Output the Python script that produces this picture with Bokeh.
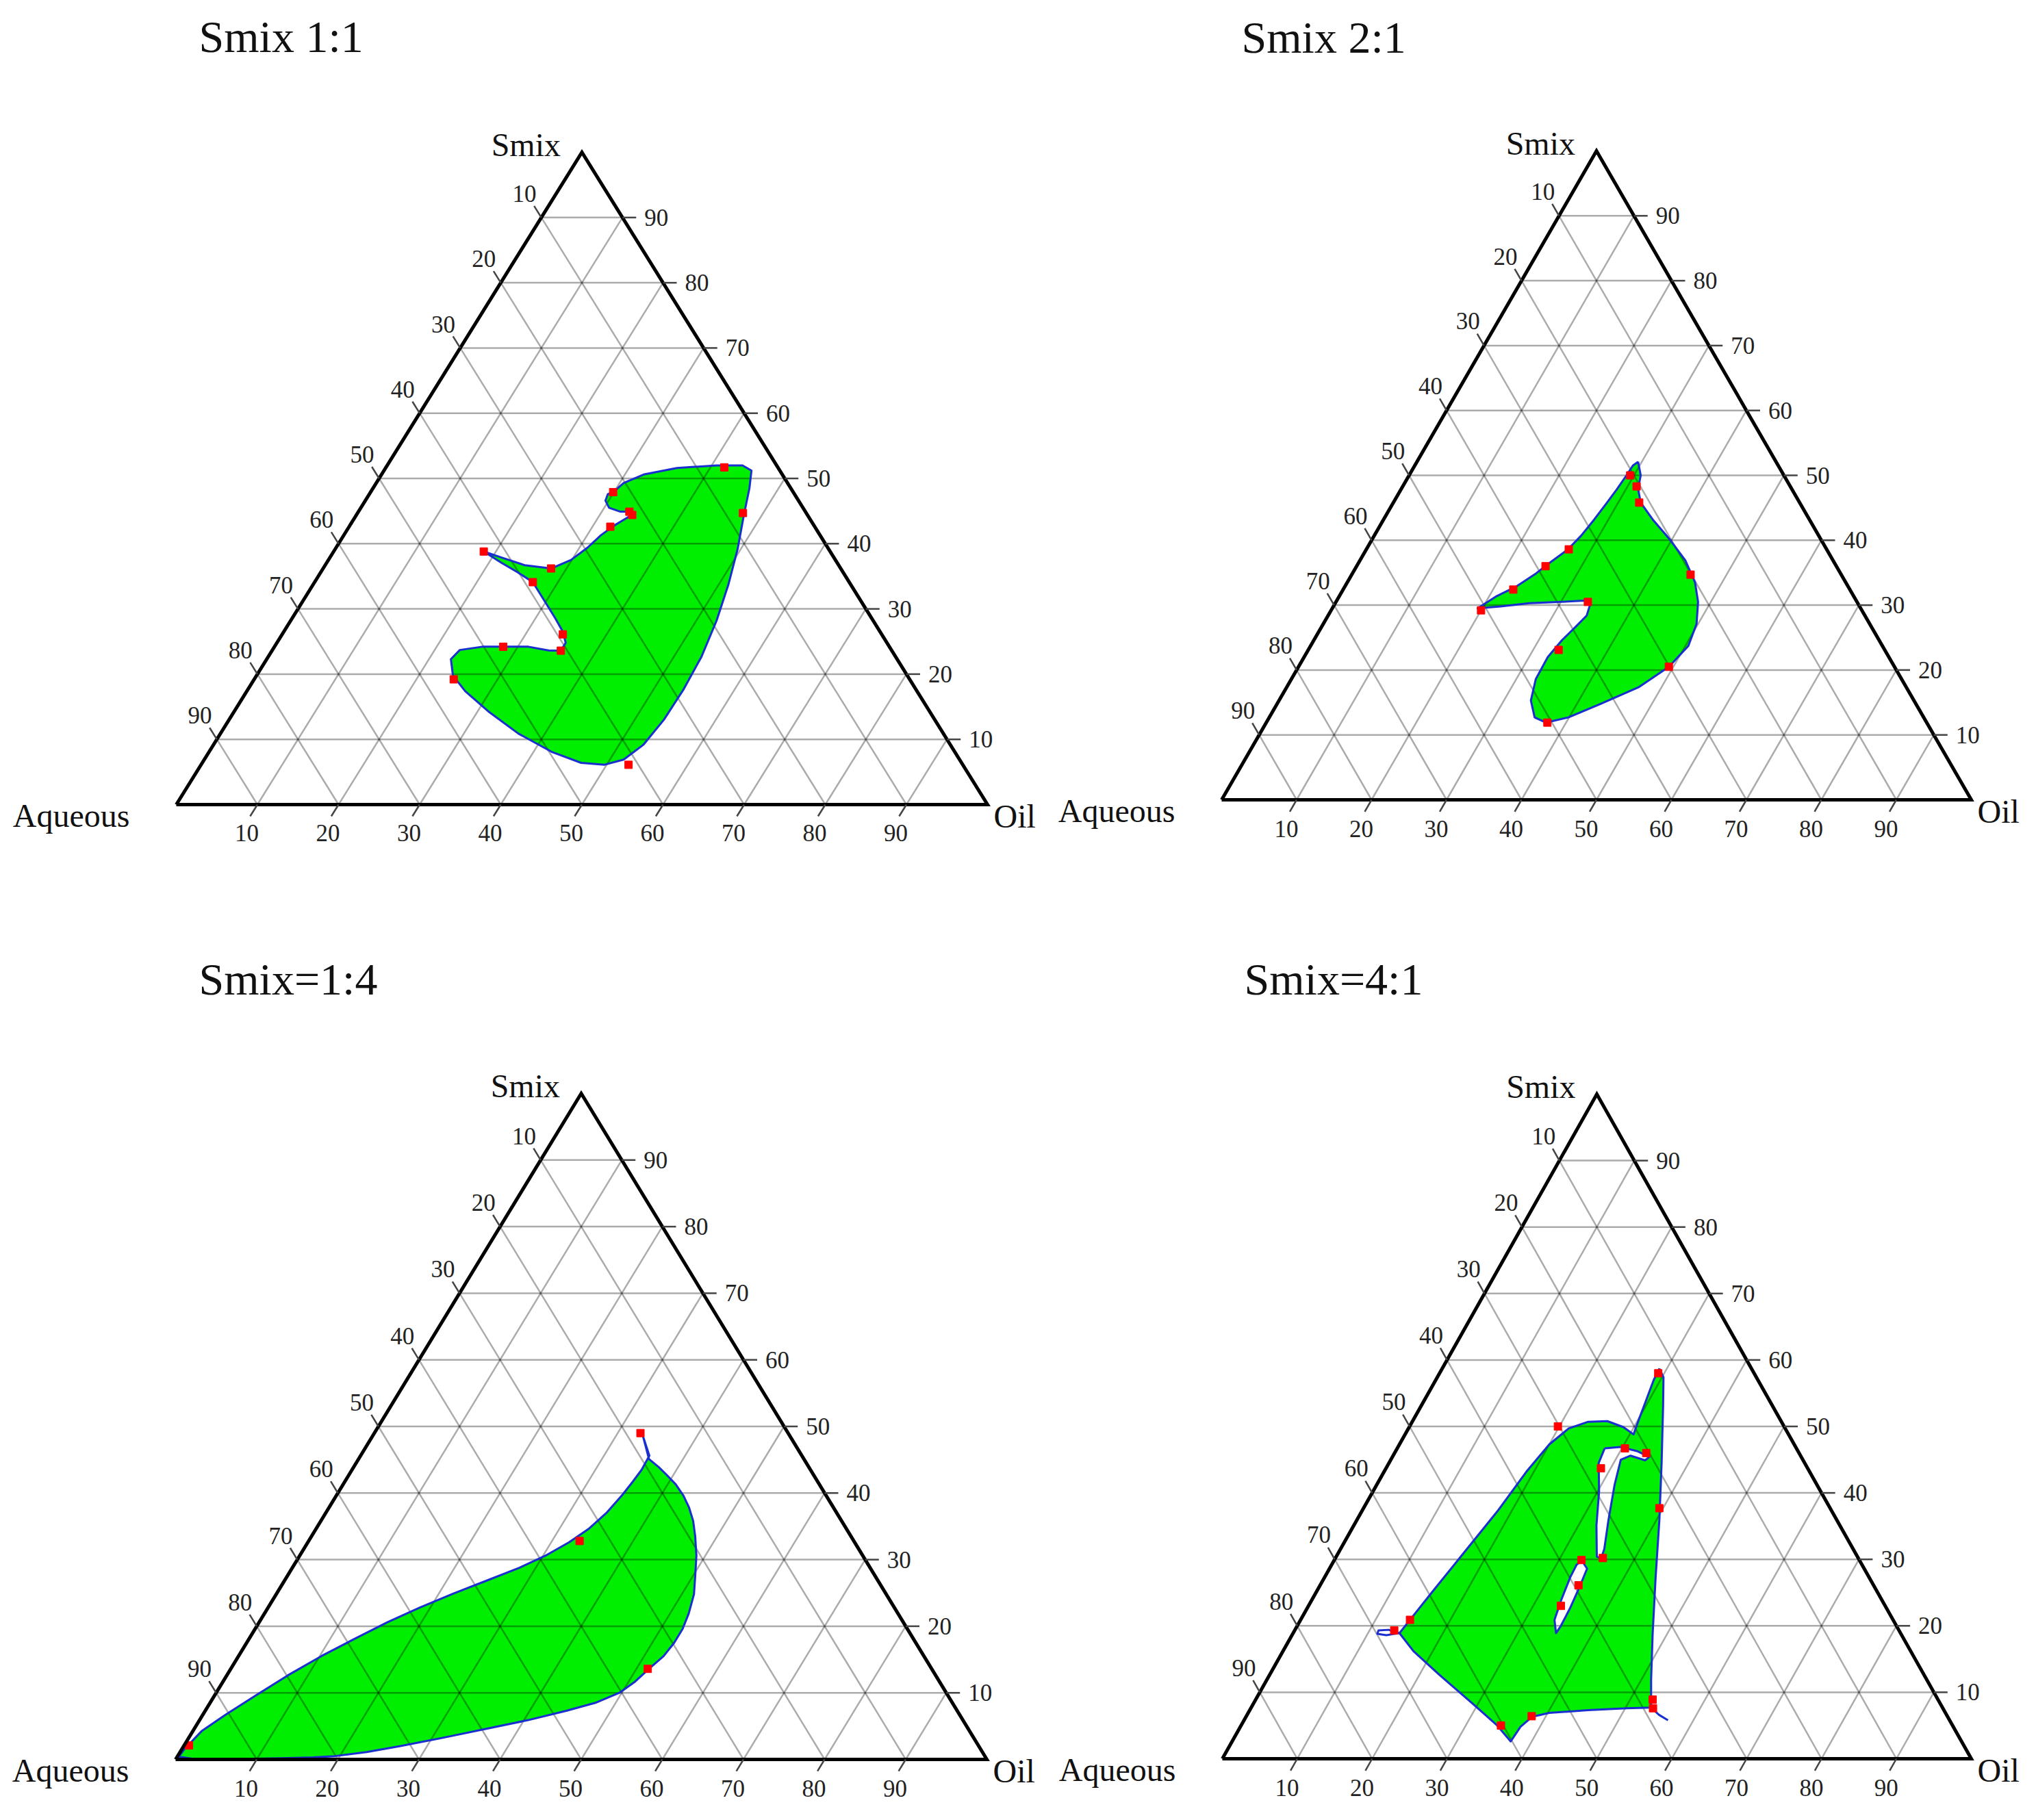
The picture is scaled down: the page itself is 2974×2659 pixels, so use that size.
import numpy as np
from bokeh.plotting import figure
from bokeh.layouts import column, row
from bokeh.models import Range1d
from bokeh.embed import file_html
from bokeh.resources import INLINE
from bokeh.core.properties import value

FONT = "Liberation Serif"
GREEN = "#00ee00"
BLUE = "#1a2fd0"
RED = "#ff0000"

TICKS = [10, 20, 30, 40, 50, 60, 70, 80, 90]
TICK_LABELS = ["10", "20", "30", "40", "50", "60", "70", "80", "90"]
CORNER_LABELS = ["Smix", "Aqueous", "Oil"]

# ---------------- data : (Oil %, Smix %) ; Aqueous = 100 - Oil - Smix ----------------
# Smix 1:1
p1_region_oil = [29.9, 30.5, 32.3, 35.9, 40.6, 43.8, 45.3, 46.4, 47.8, 49.6, 51.2, 52.5, 53.4, 53.7, 53.6,
                 53.0, 51.7, 49.7, 46.7, 42.2, 36.7, 31.3, 26.9, 24.2, 22.7, 23.1, 25.6, 28.2, 31.3, 34.2,
                 35.6, 35.6, 34.4, 32.4, 30.1, 28.1, 26.9, 24.3, 21.5, 18.5, 21.1, 24.6, 28.1, 29.9, 31.0,
                 31.7, 32.6, 33.6, 34.2, 33.4, 32.3, 30.6, 29.6, 29.4]
p1_region_smix = [47.9, 49.3, 50.6, 51.6, 52.0, 52.0, 51.2, 48.5, 44.3, 39.2, 33.7, 28.2, 22.7, 17.7, 13.0,
                  9.2, 6.9, 6.1, 6.4, 8.1, 10.9, 14.3, 17.4, 19.8, 22.3, 23.7, 24.2, 24.2, 24.2, 23.6,
                  23.6, 24.8, 26.5, 28.6, 30.9, 32.9, 34.1, 35.6, 37.1, 38.8, 37.9, 36.7, 36.2, 37.5, 39.4,
                  41.3, 42.8, 44.0, 44.5, 44.9, 44.9, 45.5, 46.6, 47.6]
p1_points_oil = [41.7, 47.5, 29.9, 34.0, 33.4, 32.2, 18.5, 28.1, 26.9, 34.6, 35.6, 28.2, 24.6, 52.7]
p1_points_smix = [51.7, 44.7, 47.9, 44.4, 44.9, 42.6, 38.8, 36.2, 34.1, 26.1, 23.6, 24.2, 19.2, 6.1]

# Smix 2:1
p2_region_oil = [29.5, 30.9, 31.6, 33.0, 35.9, 39.5, 43.4, 46.4, 48.3, 49.8, 50.4, 49.4, 47.0, 43.2, 39.9,
                 37.3, 35.4, 33.6, 32.6, 32.5, 33.1, 33.9, 34.5, 34.1, 33.0, 30.1, 25.9, 22.3, 19.4, 21.0,
                 22.9, 24.5, 25.4, 26.9, 27.6, 28.1, 28.5, 28.8, 29.0, 29.1]
p2_region_smix = [52.1, 50.0, 47.9, 45.8, 43.2, 40.3, 36.9, 33.5, 30.5, 27.1, 23.7, 20.5, 17.4, 14.8, 12.7,
                  11.9, 12.7, 15.3, 18.6, 22.0, 24.6, 26.7, 28.4, 30.1, 30.7, 30.5, 30.3, 29.8, 29.5, 31.4,
                  32.9, 34.9, 36.4, 38.6, 40.7, 43.2, 45.8, 47.9, 50.0, 51.5]
p2_points_oil = [29.5, 31.2, 32.8, 27.0, 25.2, 22.7, 20.0, 33.6, 33.4, 37.5, 49.4, 45.2]
p2_points_smix = [50.0, 48.3, 45.8, 38.6, 36.0, 32.4, 29.2, 30.5, 23.1, 11.9, 20.5, 34.7]

# Smix = 1:4
p3_region_oil = [33.3, 35.6, 35.7, 35.5, 35.2, 34.6, 33.6, 32.2, 30.4, 28.0, 25.0, 21.8, 18.7, 15.8, 13.0,
                 10.2, 7.5, 5.0, 2.8, 1.1, 0.3, 0.2, 2.0, 5.7, 9.5, 13.8, 16.8, 19.4, 23.0, 26.7,
                 31.5, 36.0, 40.5, 44.5, 47.5, 49.7, 50.8, 51.6, 52.4, 52.7, 52.7, 52.3, 51.5, 50.3, 48.9,
                 47.3, 45.9, 44.4, 42.8, 41.0, 39.2, 37.6, 35.8]
p3_region_smix = [48.6, 45.6, 43.5, 41.7, 39.7, 37.0, 34.6, 32.6, 30.7, 28.8, 26.9, 24.9, 22.8, 20.6, 18.1,
                  15.5, 12.6, 9.5, 6.7, 4.3, 1.5, 0.4, 0.1, 0.1, 0.1, 0.2, 0.3, 0.5, 1.1, 2.0,
                  3.3, 4.6, 5.9, 7.3, 8.5, 10.0, 11.7, 13.7, 15.5, 17.5, 19.6, 21.9, 24.8, 27.5, 30.6,
                  33.5, 35.8, 37.8, 39.6, 41.3, 42.7, 43.9, 45.1]
p3_points_oil = [32.8, 33.4, 51.4, 0.6]
p3_points_smix = [49.0, 32.8, 13.6, 2.1]

# Smix = 4:1
p4_region_oil = [29.0, 30.2, 32.3, 36.4, 40.4, 44.2, 48.1, 51.3, 53.4, 50.2, 45.2, 40.2, 38.2, 37.4, 37.2,
                 34.2, 29.1, 22.7, 17.4, 14.2, 14.6, 15.5, 16.8, 18.1, 19.0, 20.0, 21.4, 23.5, 26.0, 28.6,
                 30.5, 30.1, 29.6, 29.1]
p4_region_smix = [58.7, 57.4, 53.1, 44.5, 35.9, 27.3, 18.7, 11.9, 7.7, 7.6, 7.3, 6.9, 6.3, 4.8, 2.6,
                  5.0, 8.4, 12.6, 16.2, 18.9, 20.9, 25.2, 31.2, 37.2, 43.2, 47.3, 49.7, 50.7, 50.8, 49.9,
                  48.8, 51.0, 54.0, 57.0]
p4_hole1_oil = [27.7, 29.7, 32.2, 34.3, 34.0, 31.7, 30.7, 31.8, 33.6, 35.2, 35.5, 34.8, 32.4, 30.2, 28.0]
p4_hole1_smix = [46.7, 46.9, 46.3, 45.4, 44.9, 45.6, 45.0, 41.1, 35.9, 31.6, 30.2, 30.4, 35.1, 40.2, 44.5]
p4_hole2_oil = [33.1, 34.4, 34.8, 35.1, 35.2, 35.1, 33.9, 33.3, 32.8, 32.7]
p4_hole2_smix = [29.8, 28.6, 25.6, 22.6, 20.0, 18.9, 20.9, 23.9, 27.3, 29.2]
p4_tail1_oil = [14.2, 12.5, 11.2, 11.3, 12.6, 14.2]
p4_tail1_smix = [18.9, 19.4, 19.3, 18.8, 18.6, 18.9]
p4_tail2_oil = [53.4, 55.0, 56.6]
p4_tail2_smix = [7.7, 6.6, 5.8]
p4_points_oil = [29.2, 19.8, 30.4, 33.6, 28.7, 39.5, 33.0, 35.7, 34.5, 33.7, 14.6, 13.3, 34.7, 38.1, 53.0, 53.7]
p4_points_smix = [58.0, 50.0, 46.7, 46.0, 43.7, 37.7, 29.9, 30.2, 26.1, 23.0, 20.9, 19.3, 5.0, 6.4, 8.9, 7.6]

PANELS = [
    dict(title="Smix 1:1", w=1532, h=1382, Lx=257, Ly=1175, Rx=1442, Ty=222, tx=290, ty=53,
         region=[(p1_region_oil, p1_region_smix)], holes=[], tails=[],
         pts=(p1_points_oil, p1_points_smix)),
    dict(title="Smix 2:1", w=1426, h=1382, Lx=252, Ly=1168, Rx=1347, Ty=220, tx=281, ty=54,
         region=[(p2_region_oil, p2_region_smix)], holes=[], tails=[],
         pts=(p2_points_oil, p2_points_smix)),
    dict(title="Smix=1:4", w=1532, h=1258, Lx=256, Ly=1188, Rx=1441, Ty=215, tx=290, ty=48,
         region=[(p3_region_oil, p3_region_smix)], holes=[], tails=[],
         pts=(p3_points_oil, p3_points_smix)),
    dict(title="Smix=4:1", w=1426, h=1258, Lx=253, Ly=1187, Rx=1347, Ty=216, tx=285, ty=48,
         region=[(p4_region_oil, p4_region_smix)],
         holes=[(p4_hole1_oil, p4_hole1_smix), (p4_hole2_oil, p4_hole2_smix)],
         tails=[(p4_tail1_oil, p4_tail1_smix), (p4_tail2_oil, p4_tail2_smix)],
         pts=(p4_points_oil, p4_points_smix)),
]


def make_panel(c):
    W, H = c["w"], c["h"]
    Lx, Ly, Rx, Ty = c["Lx"], c["Ly"], c["Rx"], c["Ty"]
    kx = (Rx - Lx) / 100.0
    ky = (Ly - Ty) / 100.0
    x0 = -Lx / kx
    x1 = x0 + W / kx
    y1 = Ly / ky
    y0 = y1 - H / ky
    p = figure(width=W, height=H, x_range=Range1d(x0, x1), y_range=Range1d(y0, y1),
               output_backend="svg", toolbar_location=None, tools="", min_border=0,
               x_axis_location=None, y_axis_location=None)
    p.grid.visible = False
    p.outline_line_color = None
    p.background_fill_color = "white"
    p.border_fill_color = "white"

    def tern(oil, smix):
        oil = np.asarray(oil, float)
        smix = np.asarray(smix, float)
        return oil + smix / 2.0, smix

    def px(xp, yp):  # local pixel -> data
        return x0 + xp / kx, y1 - yp / ky

    def off(dx, dy):  # pixel offset (screen, y down) -> data offset
        return dx / kx, -dy / ky

    # fill
    ox, oy = tern(*c["region"][0])
    if c["holes"]:
        rings_x = [list(ox)]
        rings_y = [list(oy)]
        for hx, hy in c["holes"]:
            a, b = tern(hx, hy)
            rings_x.append(list(a))
            rings_y.append(list(b))
        p.multi_polygons(xs=[[rings_x]], ys=[[rings_y]], fill_color=GREEN, line_color=None)
    else:
        p.patch(ox, oy, fill_color=GREEN, line_color=None)

    # grid lines
    gx, gy = [], []
    for t in TICKS:
        a, b = tern([0, 100 - t], [t, t]); gx.append(list(a)); gy.append(list(b))
        a, b = tern([t, t], [0, 100 - t]); gx.append(list(a)); gy.append(list(b))
        a, b = tern([100 - t, 0], [0, 100 - t]); gx.append(list(a)); gy.append(list(b))
    p.multi_line(gx, gy, line_color="black", line_alpha=0.33, line_width=2.5)

    # region outlines
    lx, ly = [], []
    rings = list(c["region"]) + list(c["holes"])
    for ro, rs in rings:
        a, b = tern(list(ro) + [ro[0]], list(rs) + [rs[0]])
        lx.append(list(a)); ly.append(list(b))
    for ro, rs in c["tails"]:
        a, b = tern(ro, rs)
        lx.append(list(a)); ly.append(list(b))
    p.multi_line(lx, ly, line_color=BLUE, line_width=3, line_join="round")

    # points
    ptx, pty = tern(*c["pts"])
    p.scatter(ptx, pty, marker="square", size=11, color=RED)

    # triangle frame
    fx, fy = tern([0, 100, 0, 0], [0, 0, 100, 0])
    p.line(fx, fy, line_color="black", line_width=5, line_join="miter")

    # directions in pixel space
    Tx = (Lx + Rx) / 2.0
    db = np.array([Lx - Tx, Ly - Ty]); db /= np.hypot(*db)     # down-left (bottom ticks)
    dl = np.array([Tx - Rx, Ty - Ly]); dl /= np.hypot(*dl)     # up-left (left ticks)
    TL = 20.0

    seg_x0, seg_y0, seg_x1, seg_y1 = [], [], [], []
    bx, by, lxs, lys, rxs, rys = [], [], [], [], [], []
    for t in TICKS:
        # bottom axis (Oil)
        a, b = tern([t], [0]); a, b = a[0], b[0]
        dx, dy = off(TL * db[0], TL * db[1])
        seg_x0.append(a); seg_y0.append(b); seg_x1.append(a + dx); seg_y1.append(b + dy)
        dx2, dy2 = off(TL * db[0] - 5, TL * db[1] + 25)
        bx.append(a + dx2); by.append(b + dy2)
        # left axis (Aqueous)
        a, b = tern([0], [100 - t]); a, b = a[0], b[0]
        dx, dy = off(TL * dl[0], TL * dl[1])
        seg_x0.append(a); seg_y0.append(b); seg_x1.append(a + dx); seg_y1.append(b + dy)
        dx2, dy2 = off(41 * dl[0] - 3, 41 * dl[1])
        lxs.append(a + dx2); lys.append(b + dy2)
        # right axis (Smix)
        a, b = tern([100 - t], [t]); a, b = a[0], b[0]
        dx, dy = off(TL, 0)
        seg_x0.append(a); seg_y0.append(b); seg_x1.append(a + dx); seg_y1.append(b + dy)
        dx2, dy2 = off(32, 0)
        rxs.append(a + dx2); rys.append(b + dy2)
    p.segment(seg_x0, seg_y0, seg_x1, seg_y1, line_color="#444444", line_width=2.5)

    tick_style = dict(text_font=value(FONT), text_font_size="35px", text_color="#222222")
    p.text(bx, by, text=TICK_LABELS, text_align="center", text_baseline="middle", **tick_style)
    p.text(lxs, lys, text=TICK_LABELS, text_align="center", text_baseline="middle", **tick_style)
    p.text(rxs, rys, text=TICK_LABELS, text_align="left", text_baseline="middle", **tick_style)

    # corner labels
    lab = dict(text_font=value(FONT), text_font_size="48px", text_color="#111111",
               text_baseline="alphabetic")
    sx, sy = px(Tx - 31, Ty - 11)
    p.text([sx], [sy], text=[CORNER_LABELS[0]], text_align="right", **lab)
    ax_, ay_ = px(Lx - 68, Ly + 16)
    p.text([ax_], [ay_], text=[CORNER_LABELS[1]], text_align="right", **lab)
    ox_, oy_ = px(Rx + 9, Ly + 17)
    p.text([ox_], [oy_], text=[CORNER_LABELS[2]], text_align="left", **lab)

    # title
    tx, ty = px(c["tx"], c["ty"])
    p.text([tx], [ty], text=[c["title"]], text_align="left", text_baseline="alphabetic",
           text_font=value(FONT), text_font_size="66px", text_color="#111111")
    return p


figs = [make_panel(c) for c in PANELS]
layout = column(row(figs[0], figs[1]), row(figs[2], figs[3]))

with open("out.html", "w") as f:
    f.write(file_html(layout, INLINE, title="Ternary phase diagrams"))
